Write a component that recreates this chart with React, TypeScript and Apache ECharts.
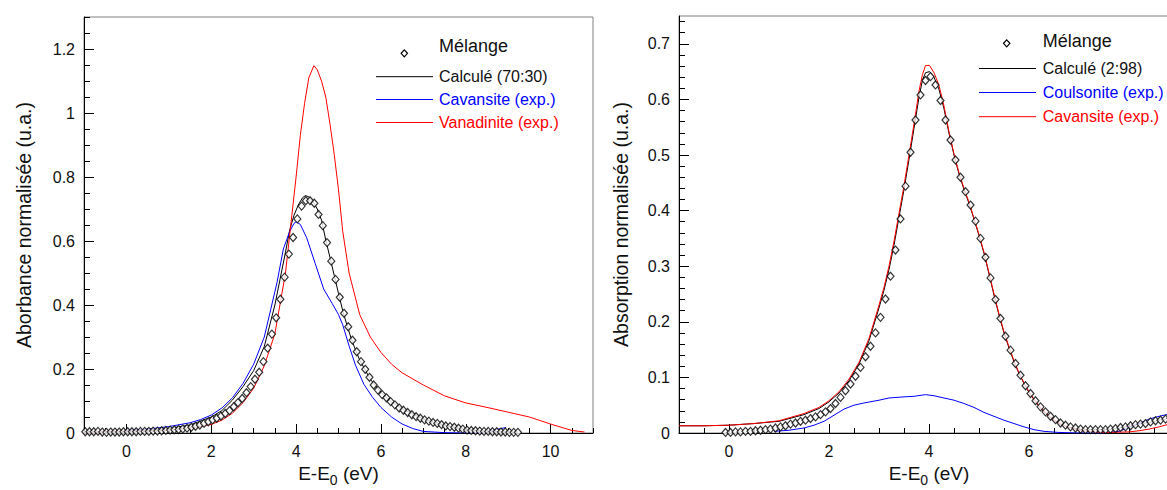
import React, { useEffect, useRef } from "react";
import * as echarts from "echarts";

const FONT = "'Liberation Sans', Arial, Helvetica, sans-serif";
const TXT = "#111";
const C_BLACK = "#000000";
const C_BLUE = "#0000ff";
const C_RED = "#ff0000";

// ---------- Left panel (Cavansite / Vanadinite) ----------
const L_NAMES = ["Mélange", "Calculé (70:30)", "Cavansite (exp.)", "Vanadinite (exp.)"];
const L_X_NAME = "E-E{sub|0} (eV)";
const L_Y_NAME = "Aborbance normalisée (u.a.)";
const L_X_TICKS = [0, 2, 4, 6, 8, 10];
const L_X_MINOR = [-1, -0.5, 0, 0.5, 1, 1.5, 2, 2.5, 3, 3.5, 4, 4.5, 5, 5.5, 6, 6.5, 7, 7.5, 8, 8.5, 9, 9.5, 10, 10.5, 11];
const L_Y_TICKS = [0, 0.2, 0.4, 0.6, 0.8, 1, 1.2];
const L_Y_MINOR = [0, 0.05, 0.1, 0.15, 0.2, 0.25, 0.3, 0.35, 0.4, 0.45, 0.5, 0.55, 0.6, 0.65, 0.7, 0.75, 0.8, 0.85, 0.9, 0.95, 1, 1.05, 1.1, 1.15, 1.2, 1.25, 1.3];

const L_MIX_X = [
  -0.97, -0.87, -0.77, -0.67, -0.57, -0.47, -0.37, -0.27, -0.17, -0.07,
  0.03, 0.13, 0.23, 0.33, 0.43, 0.53, 0.63, 0.73, 0.83, 0.93,
  1.03, 1.13, 1.23, 1.33, 1.43, 1.53, 1.63, 1.73, 1.83, 1.93,
  2.03, 2.13, 2.23, 2.33, 2.43, 2.53, 2.63, 2.73, 2.83, 2.93,
  3.03, 3.13, 3.23, 3.33, 3.43, 3.53, 3.63, 3.73, 3.83, 3.93,
  4.03, 4.13, 4.23, 4.33, 4.43, 4.53, 4.63, 4.73, 4.83, 4.93,
  5.03, 5.13, 5.23, 5.33, 5.43, 5.53, 5.63, 5.73, 5.83, 5.93,
  6.03, 6.13, 6.23, 6.33, 6.43, 6.53, 6.63, 6.73, 6.83, 6.93,
  7.03, 7.13, 7.23, 7.33, 7.43, 7.53, 7.63, 7.73, 7.83, 7.93,
  8.03, 8.13, 8.23, 8.33, 8.43, 8.53, 8.63, 8.73, 8.83, 8.93,
  9.03, 9.13, 9.23,
];
const L_MIX_Y = [
  0.004, 0.004, 0.004, 0.005, 0.003, 0.002, 0.003, 0.003, 0.003, 0.004,
  0.004, 0.004, 0.004, 0.005, 0.005, 0.005, 0.006, 0.006, 0.007, 0.008,
  0.009, 0.010, 0.011, 0.013, 0.015, 0.018, 0.021, 0.025, 0.030, 0.035,
  0.041, 0.046, 0.053, 0.061, 0.070, 0.082, 0.095, 0.108, 0.126, 0.145,
  0.168, 0.190, 0.223, 0.265, 0.309, 0.360, 0.418, 0.487, 0.559, 0.611,
  0.669, 0.709, 0.726, 0.726, 0.718, 0.683, 0.648, 0.595, 0.537, 0.480,
  0.424, 0.374, 0.332, 0.290, 0.254, 0.223, 0.199, 0.174, 0.150, 0.134,
  0.120, 0.110, 0.098, 0.088, 0.078, 0.071, 0.064, 0.057, 0.051, 0.046,
  0.041, 0.037, 0.033, 0.030, 0.026, 0.022, 0.020, 0.018, 0.015, 0.012,
  0.009, 0.008, 0.007, 0.006, 0.005, 0.005, 0.004, 0.004, 0.003, 0.003,
  0.002, 0.002, 0.002,
];

const L_CALC_X = [-1, 0, 0.5, 1, 1.5, 2, 2.25, 2.5, 2.75, 3, 3.25, 3.5, 3.75, 3.85, 3.95, 4.05, 4.15, 4.22, 4.3, 4.4, 4.5, 4.6, 4.7, 4.8, 4.9, 5, 5.1, 5.2, 5.3, 5.4, 5.5, 5.75, 6, 6.25, 6.5, 7, 7.5, 8, 8.5, 9, 9.2];
const L_CALC_Y = [0.005, 0.006, 0.009, 0.014, 0.025, 0.05, 0.07, 0.103, 0.145, 0.195, 0.27, 0.4, 0.565, 0.635, 0.68, 0.712, 0.735, 0.742, 0.738, 0.723, 0.7, 0.665, 0.603, 0.548, 0.492, 0.436, 0.382, 0.337, 0.295, 0.26, 0.228, 0.168, 0.127, 0.097, 0.075, 0.044, 0.024, 0.011, 0.006, 0.003, 0.002];

const L_CAV_X = [0, 0.5, 1, 1.5, 1.75, 2, 2.25, 2.5, 2.75, 3, 3.25, 3.4, 3.55, 3.7, 3.85, 3.95, 4, 4.1, 4.25, 4.45, 4.65, 4.85, 5, 5.1, 5.25, 5.4, 5.6, 5.8, 6, 6.25, 6.5, 6.75, 7, 7.5, 8, 8.3, 8.5, 8.75, 8.95];
const L_CAV_Y = [0.008, 0.012, 0.02, 0.032, 0.042, 0.056, 0.078, 0.11, 0.155, 0.215, 0.3, 0.385, 0.47, 0.575, 0.63, 0.655, 0.66, 0.652, 0.61, 0.53, 0.45, 0.405, 0.37, 0.338, 0.272, 0.212, 0.152, 0.112, 0.08, 0.05, 0.028, 0.014, 0.005, 0.001, 0.0, 0.001, 0.004, 0.012, 0.017];

const L_VAN_X = [-1, 0, 0.5, 1, 1.5, 2, 2.25, 2.5, 2.75, 3, 3.25, 3.5, 3.75, 3.9, 4, 4.1, 4.2, 4.3, 4.42, 4.5, 4.6, 4.7, 4.8, 4.9, 5, 5.1, 5.25, 5.5, 5.75, 6, 6.25, 6.5, 7, 7.5, 8, 8.5, 9, 9.5, 10, 10.5, 10.8];
const L_VAN_Y = [0.003, 0.004, 0.006, 0.009, 0.015, 0.027, 0.04, 0.062, 0.095, 0.14, 0.21, 0.31, 0.5, 0.68, 0.8, 0.93, 1.03, 1.11, 1.148, 1.135, 1.1, 1.05, 0.965, 0.87, 0.76, 0.63, 0.5, 0.37, 0.3, 0.252, 0.215, 0.188, 0.15, 0.116, 0.094, 0.08, 0.065, 0.05, 0.028, 0.008, 0.003];

// ---------- Right panel (Coulsonite / Cavansite) ----------
const R_NAMES = ["Mélange", "Calculé (2:98)", "Coulsonite (exp.)", "Cavansite (exp.)"];
const R_X_NAME = "E-E{sub|0} (eV)";
const R_Y_NAME = "Absorption normalisée (u.a.)";
const R_X_TICKS = [0, 2, 4, 6, 8];
const R_X_MINOR = [-1, -0.5, 0, 0.5, 1, 1.5, 2, 2.5, 3, 3.5, 4, 4.5, 5, 5.5, 6, 6.5, 7, 7.5, 8, 8.5, 9];
const R_Y_TICKS = [0, 0.1, 0.2, 0.3, 0.4, 0.5, 0.6, 0.7];
const R_Y_MINOR = [0, 0.02, 0.04, 0.06, 0.08, 0.1, 0.12, 0.14, 0.16, 0.18, 0.2, 0.22, 0.24, 0.26, 0.28, 0.3, 0.32, 0.34, 0.36, 0.38, 0.4, 0.42, 0.44, 0.46, 0.48, 0.5, 0.52, 0.54, 0.56, 0.58, 0.6, 0.62, 0.64, 0.66, 0.68, 0.7, 0.72, 0.74];

const R_MIX_X = [
  -0.07, 0.03, 0.13, 0.23, 0.33, 0.43, 0.53, 0.63, 0.73, 0.83,
  0.93, 1.03, 1.13, 1.23, 1.33, 1.43, 1.53, 1.63, 1.73, 1.83,
  1.93, 2.03, 2.13, 2.23, 2.33, 2.43, 2.53, 2.63, 2.73, 2.83,
  2.93, 3.03, 3.13, 3.23, 3.33, 3.43, 3.53, 3.63, 3.73, 3.83,
  3.93, 4.03, 4.13, 4.23, 4.33, 4.43, 4.53, 4.63, 4.73, 4.83,
  4.93, 5.03, 5.13, 5.23, 5.33, 5.43, 5.53, 5.63, 5.73, 5.83,
  5.93, 6.03, 6.13, 6.23, 6.33, 6.43, 6.53, 6.63, 6.73, 6.83,
  6.93, 7.03, 7.13, 7.23, 7.33, 7.43, 7.53, 7.63, 7.73, 7.83,
  7.93, 8.03, 8.13, 8.23, 8.33, 8.43, 8.53, 8.63, 8.73, 8.83,
  8.93,
];
const R_MIX_Y = [
  0.001, 0.001, 0.002, 0.002, 0.003, 0.003, 0.004, 0.005, 0.006, 0.007,
  0.009, 0.011, 0.013, 0.016, 0.018, 0.021, 0.023, 0.026, 0.029, 0.033,
  0.038, 0.044, 0.053, 0.064, 0.076, 0.088, 0.102, 0.118, 0.137, 0.156,
  0.180, 0.208, 0.241, 0.282, 0.329, 0.385, 0.444, 0.505, 0.563, 0.608,
  0.634, 0.641, 0.626, 0.598, 0.563, 0.527, 0.491, 0.460, 0.434, 0.410,
  0.381, 0.350, 0.316, 0.279, 0.240, 0.206, 0.174, 0.149, 0.125, 0.104,
  0.085, 0.071, 0.058, 0.047, 0.038, 0.030, 0.024, 0.018, 0.014, 0.011,
  0.009, 0.007, 0.006, 0.006, 0.006, 0.006, 0.006, 0.007, 0.008, 0.010,
  0.011, 0.013, 0.015, 0.016, 0.017, 0.020, 0.022, 0.023, 0.025, 0.027,
  0.029,
];

const R_LINE_X = [-1, -0.5, 0, 0.5, 1, 1.5, 1.8, 2, 2.2, 2.4, 2.6, 2.8, 3, 3.1, 3.2, 3.3, 3.4, 3.5, 3.6, 3.7, 3.8, 3.87, 3.93, 4.01, 4.1, 4.2, 4.3, 4.4, 4.5, 4.6, 4.7, 4.8, 4.9, 5, 5.1, 5.2, 5.3, 5.4, 5.5, 5.6, 5.7, 5.8, 5.9, 6, 6.1, 6.2, 6.3, 6.4, 6.5, 6.6, 6.8, 7, 7.3, 7.6, 8, 8.2, 8.4, 8.6, 8.8, 9];
const R_CALC_Y = [0.013, 0.013, 0.014, 0.017, 0.021, 0.033, 0.044, 0.056, 0.072, 0.094, 0.124, 0.166, 0.225, 0.257, 0.294, 0.338, 0.388, 0.438, 0.492, 0.548, 0.604, 0.635, 0.648, 0.65, 0.64, 0.618, 0.583, 0.539, 0.5, 0.466, 0.438, 0.413, 0.385, 0.355, 0.323, 0.286, 0.248, 0.212, 0.18, 0.153, 0.128, 0.107, 0.089, 0.073, 0.06, 0.048, 0.038, 0.03, 0.023, 0.017, 0.01, 0.007, 0.006, 0.006, 0.012, 0.016, 0.019, 0.023, 0.026, 0.03];
const R_CAV_Y = [0.013, 0.013, 0.014, 0.017, 0.022, 0.035, 0.046, 0.058, 0.074, 0.097, 0.127, 0.17, 0.23, 0.262, 0.3, 0.345, 0.395, 0.445, 0.5, 0.556, 0.615, 0.645, 0.661, 0.661, 0.648, 0.625, 0.588, 0.542, 0.502, 0.468, 0.44, 0.415, 0.386, 0.357, 0.325, 0.288, 0.25, 0.214, 0.182, 0.155, 0.13, 0.108, 0.09, 0.074, 0.061, 0.049, 0.039, 0.031, 0.024, 0.018, 0.01, 0.005, 0.002, 0.001, 0.002, 0.004, 0.007, 0.011, 0.016, 0.022];

const R_COUL_X = [0.9, 1.2, 1.5, 1.7, 1.9, 2.1, 2.3, 2.5, 2.7, 3, 3.2, 3.5, 3.7, 3.93, 4.1, 4.3, 4.5, 4.7, 4.9, 5.1, 5.3, 5.5, 5.7, 5.9, 6.1, 6.3, 6.6, 7, 7.5, 7.8, 8, 8.2, 8.4, 8.6, 8.8, 9];
const R_COUL_Y = [0.003, 0.005, 0.009, 0.014, 0.021, 0.032, 0.043, 0.05, 0.054, 0.059, 0.063, 0.065, 0.066, 0.069, 0.067, 0.063, 0.059, 0.053, 0.046, 0.037, 0.03, 0.023, 0.017, 0.011, 0.006, 0.003, 0.001, 0, 0, 0.003, 0.01, 0.017, 0.025, 0.03, 0.034, 0.038];

const zip = (xs: number[], ys: number[]) => xs.map((x, i) => [x, ys[i]]);

function mainX(grid: number, min: number, max: number, ticks: number[], name: string) {
  return {
    gridIndex: grid, type: "value", min, max, position: "bottom",
    axisLine: { show: true, onZero: false, lineStyle: { color: "#000", width: 1 } },
    axisTick: { show: true, inside: true, length: 9, customValues: ticks, lineStyle: { color: "#000", width: 1 } },
    axisLabel: { show: true, customValues: ticks, fontSize: 16, color: TXT, fontFamily: FONT, margin: 10 },
    splitLine: { show: false },
    name, nameLocation: "middle", nameGap: 25,
    nameTextStyle: {
      fontSize: 19, color: TXT, fontFamily: FONT,
      rich: { sub: { fontSize: 14, color: TXT, fontFamily: FONT, padding: [14, 0, 0, 0] } },
    },
  };
}
function minorX(grid: number, min: number, max: number, ticks: number[]) {
  return {
    gridIndex: grid, type: "value", min, max, position: "bottom",
    axisLine: { show: false, onZero: false },
    axisTick: { show: true, inside: true, length: 5, customValues: ticks, lineStyle: { color: "#000", width: 1 } },
    axisLabel: { show: false },
    splitLine: { show: false },
  };
}
function mainY(grid: number, min: number, max: number, ticks: number[], name: string, gap: number) {
  return {
    gridIndex: grid, type: "value", min, max, position: "left",
    axisLine: { show: true, onZero: false, lineStyle: { color: "#000", width: 1 } },
    axisTick: { show: true, inside: true, length: 10, customValues: ticks, lineStyle: { color: "#000", width: 1 } },
    axisLabel: { show: true, customValues: ticks, fontSize: 16, color: TXT, fontFamily: FONT, margin: 9 },
    splitLine: { show: false },
    name, nameLocation: "middle", nameGap: gap,
    nameTextStyle: { fontSize: 19.5, color: TXT, fontFamily: FONT },
  };
}
function minorY(grid: number, min: number, max: number, ticks: number[]) {
  return {
    gridIndex: grid, type: "value", min, max, position: "left",
    axisLine: { show: false, onZero: false },
    axisTick: { show: true, inside: true, length: 6, customValues: ticks, lineStyle: { color: "#000", width: 1 } },
    axisLabel: { show: false },
    splitLine: { show: false },
  };
}

function legend(names: string[], dx: number, dy: number, lineX1: number, lineX2: number, textX: number, rows: number[]) {
  const colors = [C_BLACK, C_BLUE, C_RED];
  const els: any[] = [
    {
      type: "polygon",
      shape: { points: [[dx, dy - 3.5], [dx + 3.2, dy], [dx, dy + 3.5], [dx - 3.2, dy]] },
      style: { fill: "#fff", stroke: "#000", lineWidth: 1.2 },
      z: 10,
    },
    {
      type: "text", x: textX, y: rows[0],
      style: { text: names[0], fontSize: 18, fontFamily: FONT, fill: TXT, align: "left", verticalAlign: "middle" },
      z: 10,
    },
  ];
  for (let i = 1; i < 4; i++) {
    els.push({
      type: "line",
      shape: { x1: lineX1, y1: rows[i], x2: lineX2, y2: rows[i] },
      style: { stroke: colors[i - 1], lineWidth: 1 },
      z: 10,
    });
    els.push({
      type: "text", x: textX, y: rows[i],
      style: { text: names[i], fontSize: 16, fontFamily: FONT, fill: i === 1 ? TXT : colors[i - 1], align: "left", verticalAlign: "middle" },
      z: 10,
    });
  }
  return els;
}

export default function App() {
  const ref = useRef<HTMLDivElement>(null);
  useEffect(() => {
    if (!ref.current) return;
    const chart = echarts.init(ref.current, undefined, { renderer: "svg" });
    const lineSeries = (name: string, xi: number, data: number[][], color: string) => ({
      name, type: "line", xAxisIndex: xi, yAxisIndex: xi, data,
      showSymbol: false, symbol: "none", smooth: false,
      lineStyle: { color, width: 1 }, itemStyle: { color }, z: 3,
    });
    const mixSeries = (name: string, xi: number, data: number[][]) => ({
      name, type: "scatter", xAxisIndex: xi, yAxisIndex: xi, data,
      symbol: "diamond", symbolSize: [7, 8],
      itemStyle: { color: "#fff", borderColor: "#000", borderWidth: 1.2 }, z: 5,
    });
    chart.setOption({
      animation: false,
      backgroundColor: "#fff",
      textStyle: { fontFamily: FONT },
      grid: [
        { left: 84, top: 17, width: 509, height: 416, show: true, borderColor: "#808080", borderWidth: 1, containLabel: false, outerBoundsMode: "none" },
        { left: 679, top: 16, width: 500, height: 417, show: true, borderColor: "#808080", borderWidth: 1, containLabel: false, outerBoundsMode: "none" },
      ],
      xAxis: [
        mainX(0, -1, 11, L_X_TICKS, L_X_NAME),
        minorX(0, -1, 11, L_X_MINOR),
        mainX(1, -1, 9, R_X_TICKS, R_X_NAME),
        minorX(1, -1, 9, R_X_MINOR),
      ],
      yAxis: [
        mainY(0, 0, 1.3, L_Y_TICKS, L_Y_NAME, 50),
        minorY(0, 0, 1.3, L_Y_MINOR),
        mainY(1, 0, 0.75, R_Y_TICKS, R_Y_NAME, 48),
        minorY(1, 0, 0.75, R_Y_MINOR),
      ],
      series: [
        lineSeries(L_NAMES[1], 0, zip(L_CALC_X, L_CALC_Y), C_BLACK),
        lineSeries(L_NAMES[2], 0, zip(L_CAV_X, L_CAV_Y), C_BLUE),
        lineSeries(L_NAMES[3], 0, zip(L_VAN_X, L_VAN_Y), C_RED),
        mixSeries(L_NAMES[0], 0, zip(L_MIX_X, L_MIX_Y)),
        lineSeries(R_NAMES[1], 2, zip(R_LINE_X, R_CALC_Y), C_BLACK),
        lineSeries(R_NAMES[2], 2, zip(R_COUL_X, R_COUL_Y), C_BLUE),
        lineSeries(R_NAMES[3], 2, zip(R_LINE_X, R_CAV_Y), C_RED),
        mixSeries(R_NAMES[0], 2, zip(R_MIX_X, R_MIX_Y)),
      ],
      graphic: {
        elements: [
          ...legend(L_NAMES, 404.3, 53.3, 376, 433, 439, [45.7, 76.7, 99.5, 122.5]),
          ...legend(R_NAMES, 1006.7, 43.3, 979, 1036, 1042.7, [40.7, 68.5, 92.5, 116.7]),
        ],
      },
    });
    return () => chart.dispose();
  }, []);
  return (
    <div
      ref={ref}
      style={{ position: "fixed", left: 0, top: 0, width: 1167, height: 490, background: "#fff" }}
    />
  );
}
